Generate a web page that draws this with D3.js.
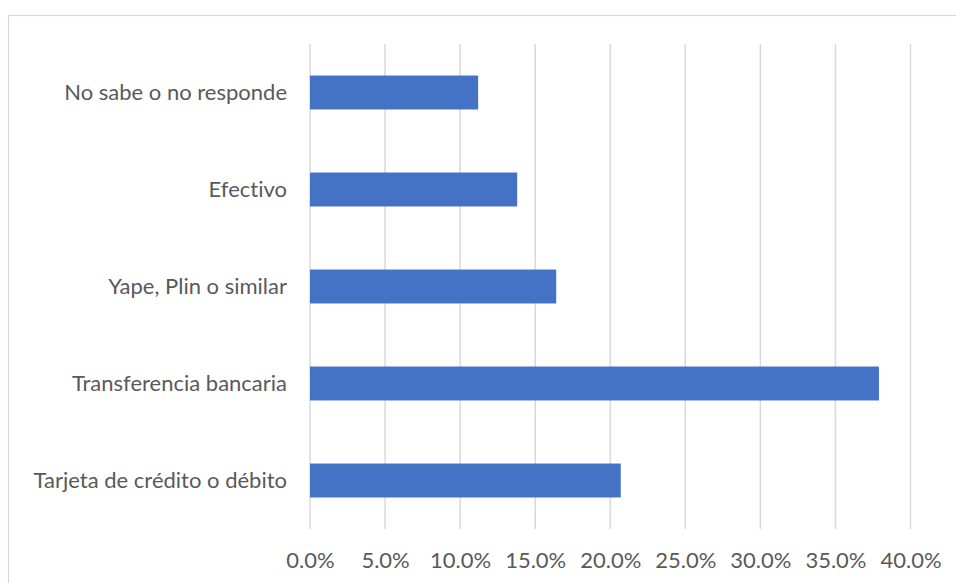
<!DOCTYPE html>
<html>
<head>
<meta charset="utf-8">
<script src="https://cdn.jsdelivr.net/npm/d3@7"></script>
<style>
  html, body { margin: 0; padding: 0; background: #ffffff; }
  svg { display: block; }
  text {
    font-family: Lato, "Open Sans", sans-serif;
    fill: #595959;
    font-variant-ligatures: none;
    font-feature-settings: "liga" 0, "clig" 0;
  }
</style>
</head>
<body>
<svg id="chart" width="956" height="583"></svg>
<script>
// Medio de pago (porcentaje de respuestas)
const categories = [
  "Tarjeta de crédito o débito",
  "Transferencia bancaria",
  "Yape, Plin o similar",
  "Efectivo",
  "No sabe o no responde"
];
const values = [20.7, 37.9, 16.4, 13.8, 11.2];
const tickValues = [0, 5, 10, 15, 20, 25, 30, 35, 40];

const svg = d3.select("#chart");
const W = 956, H = 583;
const plot = { left: 310, right: 910.5, top: 44, bottom: 529 };
const FONT_SIZE = "22px";

// chart area outline
svg.append("rect")
  .attr("x", 8.5).attr("y", 15.5)
  .attr("width", W + 10).attr("height", H + 10)
  .attr("fill", "none")
  .attr("stroke", "#d9d9d9")
  .attr("stroke-width", 1.2);

const x = d3.scaleLinear().domain([0, 40]).range([plot.left, plot.right]);
const y = d3.scaleBand()
  .domain(categories.slice().reverse())
  .range([plot.top, plot.bottom])
  .paddingInner(0.65)
  .paddingOuter(0.325);

// vertical gridlines
svg.append("g")
  .selectAll("line")
  .data(tickValues)
  .join("line")
  .attr("x1", d => x(d)).attr("x2", d => x(d))
  .attr("y1", plot.top).attr("y2", plot.bottom)
  .attr("stroke", "#d9d9d9")
  .attr("stroke-width", 1.5);

// bars
svg.append("g")
  .selectAll("rect")
  .data(categories.map((c, i) => ({ c, v: values[i] })))
  .join("rect")
  .attr("x", x(0))
  .attr("y", d => y(d.c))
  .attr("width", d => x(d.v) - x(0))
  .attr("height", y.bandwidth())
  .attr("fill", "#4472C4");

// x axis labels
const xAxis = d3.axisBottom(x)
  .tickValues(tickValues)
  .tickFormat(d => d.toFixed(1) + "%")
  .tickSize(0)
  .tickPadding(0);
const gx = svg.append("g")
  .attr("transform", `translate(0, ${plot.bottom + 23.5})`)
  .call(xAxis)
  .attr("font-family", null)
  .attr("font-size", null);
gx.select(".domain").remove();
gx.selectAll("text")
  .style("font-size", FONT_SIZE)
  .attr("fill", "#595959");

// category labels
const yAxis = d3.axisLeft(y).tickSize(0).tickPadding(23);
const gy = svg.append("g")
  .attr("transform", `translate(${plot.left}, 0)`)
  .call(yAxis)
  .attr("font-family", null)
  .attr("font-size", null);
gy.select(".domain").remove();
gy.selectAll("text")
  .style("font-size", FONT_SIZE)
  .attr("fill", "#595959");
</script>
</body>
</html>
